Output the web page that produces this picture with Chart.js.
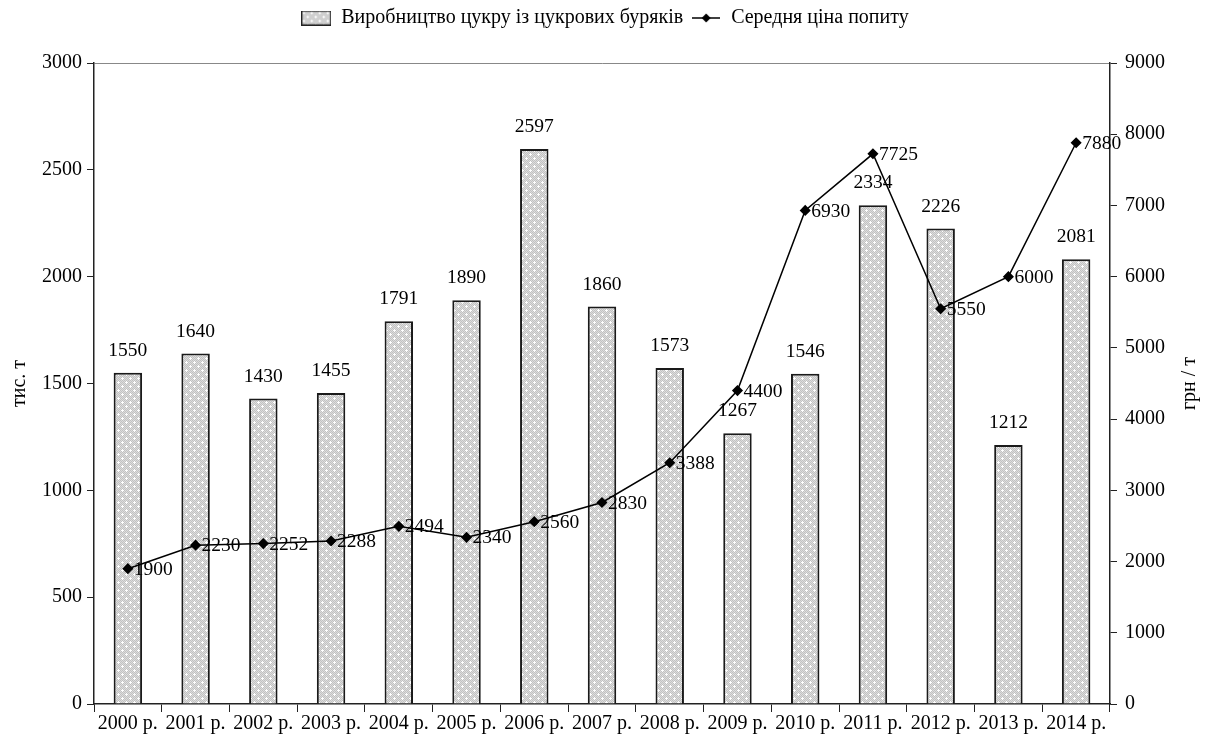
<!DOCTYPE html>
<html>
<head>
<meta charset="utf-8">
<script src="https://cdn.jsdelivr.net/npm/chart.js@4/dist/chart.umd.min.js"></script>
<style>
html,body{margin:0;padding:0;background:#fff;}
#wrap{width:1208px;height:744px;position:relative;}
</style>
</head>
<body>
<div id="wrap"><canvas id="c" width="1208" height="744"></canvas></div>
<script>
const categories = ['2000 р.','2001 р.','2002 р.','2003 р.','2004 р.','2005 р.','2006 р.','2007 р.','2008 р.','2009 р.','2010 р.','2011 р.','2012 р.','2013 р.','2014 р.'];
const sugarProduction = [1550,1640,1430,1455,1791,1890,2597,1860,1573,1267,1546,2334,2226,1212,2081];
const averagePrice = [1900,2230,2252,2288,2494,2340,2560,2830,3388,4400,6930,7725,5550,6000,7880];
const seriesNames = ['Виробництво цукру із цукрових буряків','Середня ціна попиту'];
const leftTitle = 'тис. т';
const rightTitle = 'грн / т';

const FONT = '"Liberation Serif", "Times New Roman", serif';

function makePattern(){
  const c = document.createElement('canvas');
  c.width = 8; c.height = 8;
  const g = c.getContext('2d');
  for(let y=0;y<8;y++)for(let x=0;x<8;x++){
    g.fillStyle = ((x+y)%2===0) ? '#c2c2c2' : '#dddddd';
    g.fillRect(x,y,1,1);
  }
  g.fillStyle = '#ffffff';
  const cross = (cx,cy)=>{g.fillRect(cx,cy,1,1);g.fillRect(cx-1,cy,1,1);g.fillRect(cx+1,cy,1,1);g.fillRect(cx,cy-1,1,1);g.fillRect(cx,cy+1,1,1);};
  cross(2,2); cross(6,6);
  return g.createPattern(c,'repeat');
}
const pattern = makePattern();

function barLegendIcon(){
  const c = document.createElement('canvas');
  c.width = 30; c.height = 15;
  const g = c.getContext('2d');
  g.fillStyle = pattern; g.fillRect(0,0,30,15);
  g.strokeStyle = '#222'; g.lineWidth = 1.2; g.strokeRect(0.6,0.6,28.8,13.8);
  return c;
}
function lineLegendIcon(){
  const c = document.createElement('canvas');
  c.width = 28; c.height = 12;
  const g = c.getContext('2d');
  g.strokeStyle = '#000'; g.lineWidth = 1.5;
  g.beginPath(); g.moveTo(0,6); g.lineTo(28,6); g.stroke();
  g.fillStyle = '#000';
  g.beginPath(); g.moveTo(14,1.5); g.lineTo(18.5,6); g.lineTo(14,10.5); g.lineTo(9.5,6); g.closePath(); g.fill();
  return c;
}
const icons = [barLegendIcon(), lineLegendIcon()];

const legendSpacer = {
  id: 'legendSpacer',
  beforeInit(chart){
    const lg = chart.legend;
    if(!lg) return;
    const orig = lg.fit;
    lg.fit = function(){ orig.call(this); this.height += 25; };
  }
};

const labelPlugin = {
  id: 'valueLabels',
  afterDatasetsDraw(chart){
    const ctx = chart.ctx;
    ctx.save();
    ctx.font = '19.5px ' + FONT;
    ctx.fillStyle = '#000';
    const m0 = chart.getDatasetMeta(0);
    ctx.textAlign = 'center'; ctx.textBaseline = 'middle';
    m0.data.forEach((el,i)=>{
      ctx.fillText(String(sugarProduction[i]), el.x, el.y - 22);
    });
    const m1 = chart.getDatasetMeta(1);
    ctx.textAlign = 'left';
    m1.data.forEach((el,i)=>{
      ctx.fillText(String(averagePrice[i]), el.x + 6, el.y + 1);
    });
    // right axis title, rotated to read bottom-to-top
    ctx.translate(1190, (chart.chartArea.top + chart.chartArea.bottom)/2);
    ctx.rotate(-Math.PI/2);
    ctx.textAlign = 'center';
    ctx.font = '20px ' + FONT;
    ctx.fillText(rightTitle, 0, 0);
    ctx.restore();
  }
};

Chart.defaults.font.family = FONT;
Chart.defaults.color = '#000';

new Chart(document.getElementById('c'), {
  data: {
    labels: categories,
    datasets: [
      {
        type: 'bar',
        label: seriesNames[0],
        data: sugarProduction,
        yAxisID: 'y',
        backgroundColor: pattern,
        borderColor: '#1a1a1a',
        borderWidth: 2,
        categoryPercentage: 1.0,
        barPercentage: 0.42,
        order: 2
      },
      {
        type: 'line',
        label: seriesNames[1],
        data: averagePrice,
        yAxisID: 'y1',
        borderColor: '#000',
        borderWidth: 1.5,
        backgroundColor: '#000',
        pointStyle: 'rectRot',
        pointRadius: 4.5,
        pointHoverRadius: 4.5,
        tension: 0,
        fill: false,
        order: 1
      }
    ]
  },
  options: {
    responsive: false,
    animation: false,
    devicePixelRatio: 1,
    layout: { padding: { left: 8, right: 6, top: 0, bottom: 8 } },
    plugins: {
      legend: {
        display: true,
        position: 'top',
        labels: {
          usePointStyle: true,
          pointStyleWidth: 30,
          boxHeight: 14,
          padding: 8,
          font: { size: 20, family: FONT },
          color: '#000',
          generateLabels(chart){
            return chart.data.datasets.map((ds,i)=>({
              text: ds.label,
              pointStyle: icons[i],
              fillStyle: 'transparent',
              strokeStyle: 'transparent',
              lineWidth: 0,
              datasetIndex: i,
              hidden: false
            }));
          }
        }
      },
      tooltip: { enabled: false }
    },
    scales: {
      x: {
        offset: true,
        grid: { display: true, offset: true, drawOnChartArea: false, drawTicks: true, tickLength: 8, color: '#222', tickColor: '#222' },
        border: { display: true, color: '#222', width: 1.5 },
        ticks: { font: { size: 20, family: FONT }, color: '#000', maxRotation: 0, autoSkip: false, padding: 0 }
      },
      y: {
        position: 'left',
        min: 0, max: 3000,
        ticks: { stepSize: 500, font: { size: 20, family: FONT }, color: '#000', padding: 5,
                 callback: (v)=> String(v) },
        grid: { drawOnChartArea: true, drawTicks: true, tickLength: 7,
                color: (c)=> (c.tick && c.tick.value === 3000) ? '#888' : 'rgba(0,0,0,0)',
                tickColor: '#222' },
        border: { display: true, color: '#222', width: 1.5 },
        title: { display: true, text: leftTitle, font: { size: 20, family: FONT }, color: '#000', padding: { top: 0, bottom: 5 } }
      },
      y1: {
        position: 'right',
        min: 0, max: 9000,
        ticks: { stepSize: 1000, font: { size: 20, family: FONT }, color: '#000', padding: 8,
                 callback: (v)=> String(v) },
        grid: { drawOnChartArea: false, drawTicks: true, tickLength: 7, tickColor: '#222' },
        border: { display: true, color: '#222', width: 1.5 },
        title: { display: true, text: rightTitle, font: { size: 20, family: FONT }, color: 'rgba(0,0,0,0)', padding: { top: 5, bottom: 0 } }
      }
    }
  },
  plugins: [legendSpacer, labelPlugin]
});
</script>
</body>
</html>
